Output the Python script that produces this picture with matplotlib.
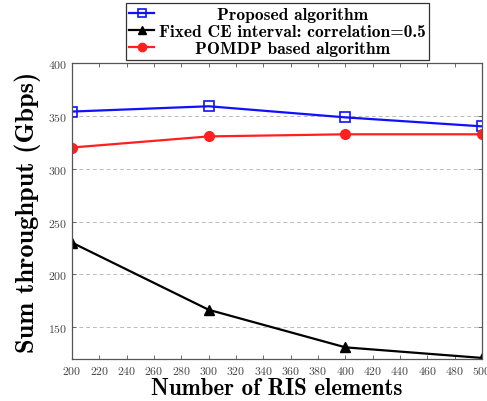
import matplotlib
matplotlib.use("Agg")
import matplotlib.pyplot as plt

# RIS size sweep
ris_elements = [200, 300, 400, 500]
proposed = [354, 359, 348.5, 340]
fixed_ce = [230, 166.5, 131, 121]
pomdp = [320, 330.5, 332.5, 332.5]

labels = ["Proposed algorithm",
          "Fixed CE interval: correlation=0.5",
          "POMDP based algorithm"]

plt.rcParams["font.family"] = "cmr10"
plt.rcParams["axes.formatter.use_mathtext"] = True

fig = plt.figure(figsize=(4.87, 4.02), dpi=100)
ax = fig.add_axes([0.148, 0.1045, 0.842, 0.7365])

l1, = ax.plot(ris_elements, proposed, color="#1010ff", lw=1.6, marker="s",
              ms=7, mfc="none", mec="#1010ff", mew=1.2)
l2, = ax.plot(ris_elements, fixed_ce, color="black", lw=1.6, marker="^",
              ms=6.5, mfc="black")
l3, = ax.plot(ris_elements, pomdp, color="#ff2020", lw=1.6, marker="o",
              ms=7, mfc="#ff2020", mec="#ff2020")

ax.set_xlim(200, 500)
ax.set_ylim(120, 400)
ax.set_xticks(range(200, 501, 20))
ax.set_yticks([150, 200, 250, 300, 350, 400])
ax.tick_params(direction="in", top=True, right=True, labelsize=8.5,
               labelcolor="#444444", length=3, width=0.6, color="#555555")
ax.yaxis.grid(True, ls=(0, (4, 3)), color="#bbbbbb", lw=0.7)
ax.set_axisbelow(True)
for s in ax.spines.values():
    s.set_color("#555555")
    s.set_linewidth(0.9)

ax.set_xlabel("Number of RIS elements", family="cmb10", fontsize=16.5, labelpad=1)
ax.set_ylabel("Sum throughput (Gbps)", family="cmb10", fontsize=19, labelpad=5)

leg = fig.legend([l1, l2, l3], labels, loc="upper center",
                 bbox_to_anchor=(0.57, 0.99), borderaxespad=0, fancybox=False,
                 edgecolor="#333333", framealpha=1, handlelength=1.4,
                 handletextpad=0.3, borderpad=0.2, labelspacing=0.12,
                 prop={"family": "cmb10", "size": 12.5})
leg.get_frame().set_linewidth(0.9)
for h in leg.legend_handles:
    h.set_markersize(6)

# center each legend entry's text within the widest one
fig.canvas.draw()
r = fig.canvas.get_renderer()
widths = [t.get_window_extent(r).width for t in leg.get_texts()]
wmax = max(widths)
for t, w in zip(leg.get_texts(), widths):
    t.set_x((wmax - w) / 2)

fig.savefig("out.png", dpi=100)
